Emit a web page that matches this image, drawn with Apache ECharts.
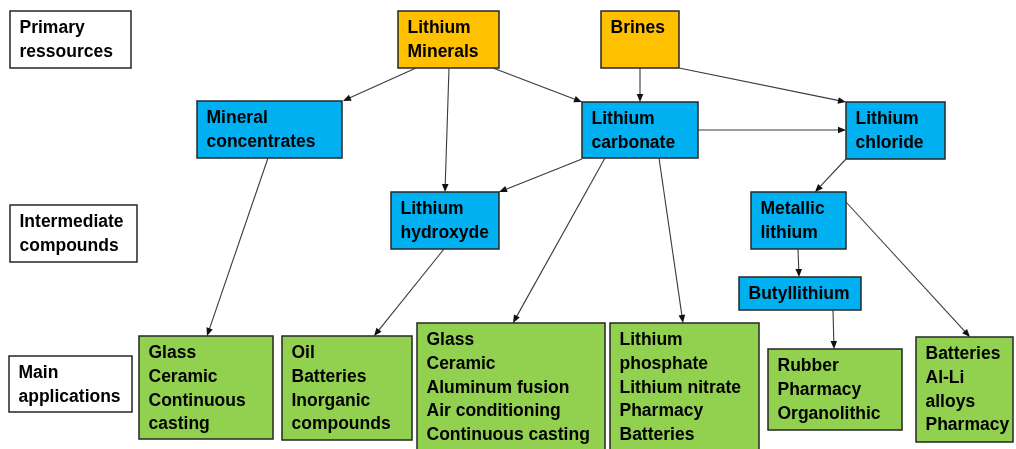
<!DOCTYPE html>
<html>
<head>
<meta charset="utf-8">
<script src="https://cdn.jsdelivr.net/npm/echarts@6/dist/echarts.min.js"></script>
<style>html,body{margin:0;padding:0;background:#fff;}#chart{width:1016px;height:449px;}</style>
</head>
<body>
<div id="chart"></div>
<script>
// ---- diagram content ----
const nodeIds = ['rowPrimary','rowInter','rowMain','liMinerals','brines','minConc','liCarb','liChlor','liHydrox','metLi','butyl','app1','app2','app3','app4','app5','app6'];
const nodeLabels = [
  'Primary\nressources',
  'Intermediate\ncompounds',
  'Main\napplications',
  'Lithium\nMinerals',
  'Brines',
  'Mineral\nconcentrates',
  'Lithium\ncarbonate',
  'Lithium\nchloride',
  'Lithium\nhydroxyde',
  'Metallic\nlithium',
  'Butyllithium',
  'Glass\nCeramic\nContinuous\ncasting',
  'Oil\nBatteries\nInorganic\ncompounds',
  'Glass\nCeramic\nAluminum fusion\nAir conditioning\nContinuous casting',
  'Lithium\nphosphate\nLithium nitrate\nPharmacy\nBatteries',
  'Rubber\nPharmacy\nOrganolithic',
  'Batteries\nAl-Li\nalloys\nPharmacy'
];
const nodeKinds = ['row','row','row','primary','primary','inter','inter','inter','inter','inter','inter','app','app','app','app','app','app'];

// ---- layout (diagram units: x to the right, y downwards) ----
const nodeLeft   = [10, 10,  9, 398, 601, 197, 582, 846, 391, 751, 739, 139, 282, 417, 610, 768, 916];
const nodeTop    = [11, 205, 356, 11, 11, 101, 102, 102, 192, 192, 277, 336, 336, 323, 323, 349, 337];
const nodeWidth  = [121, 127, 123, 101, 78, 145, 116, 99, 108, 95, 122, 134, 130, 188, 149, 134, 97];
const nodeHeight = [57, 57, 56, 57, 57, 57, 56, 57, 57, 57, 33, 103, 104, 140, 140, 81, 105];

// ---- links ----
const edgeFrom = ['liMinerals','liMinerals','liMinerals','brines','brines','liCarb','liChlor','liCarb','liCarb','liCarb','minConc','liHydrox','metLi','butyl','metLi'];
const edgeTo   = ['minConc','liHydrox','liCarb','liCarb','liChlor','liChlor','metLi','liHydrox','app3','app4','app1','app2','butyl','app5','app6'];
const edgeStart = [[416,68],[449,68],[493,68],[640,68],[679,68],[698,130],[846,159],[582,159],[605,158],[659,158],[268,158],[444,249],[798,249],[833,310],[846,202]];
const edgeEnd   = [[343,101],[445,192],[582,102],[640,102],[846,102],[846,130],[815,192],[499,192],[513,323],[683,323],[207,336],[374,336],[799,277],[834,349],[970,337]];

const kindColor = {row:'#FFFFFF', primary:'#FFC000', inter:'#00B0F0', app:'#92D050'};

const boxData = nodeIds.map((id, i) => [nodeLeft[i], nodeTop[i], nodeWidth[i], nodeHeight[i], i]);
const edgeData = edgeFrom.map((f, i) => [edgeStart[i][0], edgeStart[i][1], edgeEnd[i][0], edgeEnd[i][1], i]);

const chart = echarts.init(document.getElementById('chart'), null, {renderer:'canvas'});
chart.setOption({
  backgroundColor: '#ffffff',
  animation: false,
  grid: {left: 0, right: 0, top: 0, bottom: 0},
  xAxis: {type: 'value', min: 0, max: 1016, show: false},
  yAxis: {type: 'value', min: 0, max: 449, inverse: true, show: false},
  series: [
    {
      type: 'custom',
      coordinateSystem: 'cartesian2d',
      data: boxData,
      encode: {x: 0, y: 1},
      z: 2,
      silent: true,
      renderItem: function (params, api) {
        const i = api.value(4);
        const p1 = api.coord([api.value(0), api.value(1)]);
        const p2 = api.coord([api.value(0) + api.value(2), api.value(1) + api.value(3)]);
        return {
          type: 'group',
          children: [
            {
              type: 'rect',
              shape: {x: p1[0], y: p1[1], width: p2[0] - p1[0], height: p2[1] - p1[1]},
              style: {fill: kindColor[nodeKinds[i]], stroke: '#262626', lineWidth: 1.5}
            },
            {
              type: 'text',
              x: p1[0] + 9.5,
              y: p1[1] + 5.8,
              style: {
                text: nodeLabels[i],
                font: 'bold 17.5px "Liberation Sans", Arial, sans-serif',
                lineHeight: 23.6,
                fill: '#000000',
                align: 'left',
                verticalAlign: 'top'
              }
            }
          ]
        };
      }
    },
    {
      type: 'custom',
      coordinateSystem: 'cartesian2d',
      data: edgeData,
      encode: {x: [0, 2], y: [1, 3]},
      z: 3,
      silent: true,
      renderItem: function (params, api) {
        const a = api.coord([api.value(0), api.value(1)]);
        const b = api.coord([api.value(2), api.value(3)]);
        const dx = b[0] - a[0], dy = b[1] - a[1];
        const len = Math.sqrt(dx * dx + dy * dy);
        const ux = dx / len, uy = dy / len;
        const L = 8, W = 3.3;
        const bx = b[0] - ux * L, by = b[1] - uy * L;
        return {
          type: 'group',
          children: [
            {
              type: 'line',
              shape: {x1: a[0], y1: a[1], x2: bx + ux * 1, y2: by + uy * 1},
              style: {stroke: '#3a3a3a', lineWidth: 1.1}
            },
            {
              type: 'polygon',
              shape: {points: [[b[0], b[1]], [bx - uy * W, by + ux * W], [bx + uy * W, by - ux * W]]},
              style: {fill: '#111111'}
            }
          ]
        };
      }
    }
  ]
});
</script>
</body>
</html>
